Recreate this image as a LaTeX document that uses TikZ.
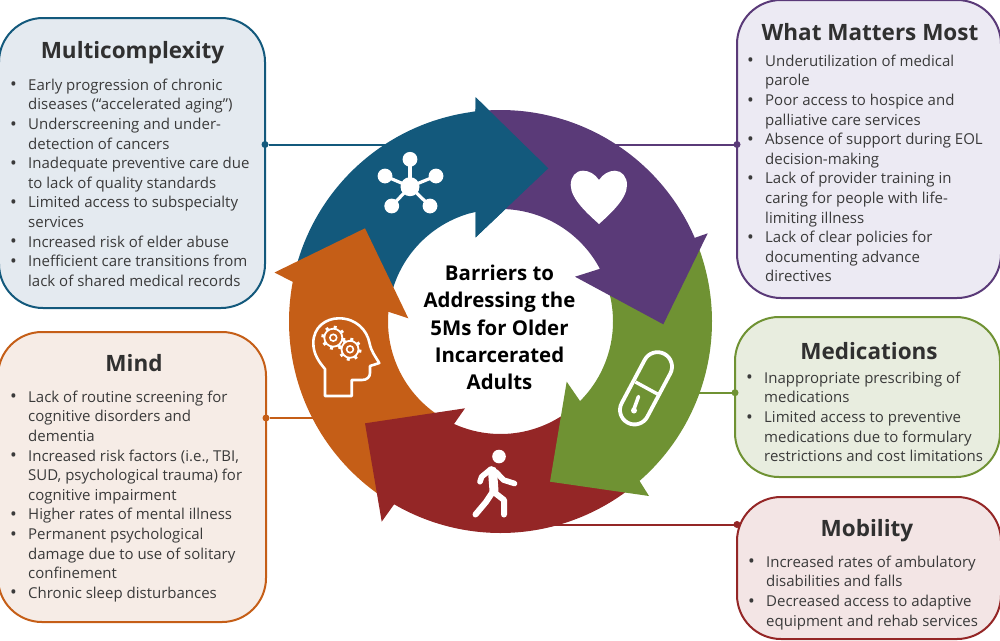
\documentclass[tikz,border=0pt]{standalone}
\usepackage{fontspec}
\setmainfont{Open Sans}
\usetikzlibrary{calc}
\definecolor{cblue}{HTML}{13597C}
\definecolor{cpurple}{HTML}{5A3A78}
\definecolor{cgreen}{HTML}{6F9233}
\definecolor{cred}{HTML}{942626}
\definecolor{corange}{HTML}{C55E17}
\definecolor{fblue}{HTML}{E4EAF0}
\definecolor{fpurple}{HTML}{ECEAF3}
\definecolor{fgreen}{HTML}{E8EDDF}
\definecolor{fred}{HTML}{F3E5E5}
\definecolor{forange}{HTML}{F6ECE6}
\definecolor{txt}{HTML}{3A3A3A}
\definecolor{ttl}{HTML}{303030}
\newcommand{\bi}{\rule{0pt}{13pt}\makebox[15pt][l]{\hspace*{-3pt}\raisebox{-0.6pt}{\fontsize{18}{18}\selectfont •}}}
\newcommand{\ct}{\rule{0pt}{13pt}\hspace*{15pt}}
% ring: angles measured clockwise on screen (y axis points down)
\newcommand{\ox}{500.5+211.5*cos(\x)}
\newcommand{\oy}{321.5+211.5*sin(\x)}
\newcommand{\ix}{500.5+112.5*cos(\x)}
\newcommand{\iy}{321.5+112.5*sin(\x)}
\tikzset{
  mbox/.style n args={2}{draw=#2,fill=#1,line width=2pt,rounded corners=44pt,inner sep=0pt,outer sep=0pt},
  mtitle/.style={anchor=base,font=\fontsize{22.5}{26}\selectfont\bfseries,text=ttl,inner sep=0pt},
  mbody/.style={anchor=north west,align=left,inner sep=0pt,text=txt,font=\fontsize{15}{19.6}\selectfont},
  mdot/.style={circle,fill=#1,inner sep=0pt,minimum size=7pt,outer sep=0pt},
  mline/.style={draw=#1,line width=2pt},
  center text/.style={align=center,font=\fontsize{20.4}{27.3}\selectfont\bfseries,text=black,inner sep=0pt},
  icon/.style={draw=white,line cap=round,line join=round},
  arc o/.style={samples=40,smooth},
  bluepath/.style={insert path={
    plot[arc o,domain=195:263.2] ({\ox},{\oy}) -- (475.7,97.3) -- (548.3,168.3) -- (475.7,237.3) -- (475.7,211.7)
    -- plot[arc o,domain=257.3:195] ({\ix},{\iy}) -- cycle}},
}
\begin{document}
\begin{tikzpicture}[x=1pt,y=-1pt]
\useasboundingbox (0,0) rectangle (1000,640);
% boxes
\node[mbox={fblue}{cblue},minimum width=266pt,minimum height=290pt] (multi) at (132,163) {};
\node[mbox={fpurple}{cpurple},minimum width=264pt,minimum height=298pt] (wmm) at (869,149) {};
\node[mbox={forange}{corange},minimum width=268pt,minimum height=290pt] (mind) at (132,477) {};
\node[mbox={fgreen}{cgreen},minimum width=265pt,minimum height=160pt] (med) at (867.5,397) {};
\node[mbox={fred}{cred},minimum width=264pt,minimum height=142pt] (mob) at (869,568) {};
% connector free ends, hidden under the ring
\coordinate (cMulti) at (400,144.5);
\coordinate (cWmm) at (600,144.5);
\coordinate (cMind) at (320,418);
\coordinate (cMed) at (690,392.7);
\coordinate (cMob) at (550,524.5);
\node[mdot=cblue] (dMulti) at (multi.east |- cMulti) {};
\node[mdot=cpurple] (dWmm) at (wmm.west |- cWmm) {};
\node[mdot=corange] (dMind) at (mind.east |- cMind) {};
\node[mdot=cgreen] (dMed) at (med.west |- cMed) {};
\node[mdot=cred] (dMob) at (mob.west |- cMob) {};
\draw[mline=cblue] (dMulti) -- (cMulti);
\draw[mline=cpurple] (dWmm) -- (cWmm);
\draw[mline=corange] (dMind) -- (cMind);
\draw[mline=cgreen] (dMed) -- (cMed);
\draw[mline=cred] (dMob) -- (cMob);
% titles
\node[mtitle] (tMulti) at (132.5,58) {Multicomplexity};
\node[mtitle] (tWmm) at (870,40) {What Matters Most};
\node[mtitle] (tMind) at (134,371.5) {Mind};
\node[mtitle] (tMed) at (869,359) {Medications};
\node[mtitle] (tMob) at (867,536.5) {Mobility};
% lists
\node[mbody] (lMulti) at (13,77) {\bi Early progression of chronic\\\ct diseases (“accelerated aging”)\\\bi Underscreening and under-\\\ct detection of cancers\\\bi Inadequate preventive care due\\\ct to lack of quality standards\\\bi Limited access to subspecialty\\\ct services\\\bi Increased risk of elder abuse\\\bi Inefficient care transitions from\\\ct lack of shared medical records};
\node[mbody] (lWmm) at (750,53) {\bi Underutilization of medical\\\ct parole\\\bi Poor access to hospice and\\\ct palliative care services\\\bi Absence of support during EOL\\\ct decision-making\\\bi Lack of provider training in\\\ct caring for people with life-\\\ct limiting illness\\\bi Lack of clear policies for\\\ct documenting advance\\\ct directives};
\node[mbody] (lMind) at (13,389) {\bi Lack of routine screening for\\\ct cognitive disorders and\\\ct dementia\\\bi Increased risk factors (i.e., TBI,\\\ct SUD, psychological trauma) for\\\ct cognitive impairment\\\bi Higher rates of mental illness\\\bi Permanent psychological\\\ct damage due to use of solitary\\\ct confinement\\\bi Chronic sleep disturbances};
\node[mbody] (lMed) at (749,370) {\bi Inappropriate prescribing of\\\ct medications\\\bi Limited access to preventive\\\ct medications due to formulary\\\ct restrictions and cost limitations};
\node[mbody] (lMob) at (751,554) {\bi Increased rates of ambulatory\\\ct disabilities and falls\\\bi Decreased access to adaptive\\\ct equipment and rehab services};
% ring arrows
\fill[cblue,bluepath];
\fill[corange] plot[arc o,domain=124:190.8] ({\ox},{\oy}) -- (274.5,272.5) -- (365,228.3) -- (408.3,318.3) -- (388.3,311.7) -- plot[arc o,domain=185.1:122] ({\ix},{\iy}) -- cycle;
\fill[cred] plot[arc o,domain=51:120.2] ({\ox},{\oy}) -- (381.7,521.7) -- (365,423.3) -- (465,408.3) -- (453.3,425) -- plot[arc o,domain=114.4:50] ({\ix},{\iy}) -- cycle;
\fill[cgreen] plot[arc o,domain=-22:48.9] ({\ox},{\oy}) -- (649,496) -- (550,481.7) -- (566.7,381.7) -- (580,401) -- plot[arc o,domain=45:-16] ({\ix},{\iy}) -- cycle;
\fill[cpurple] plot[arc o,domain=-95:-23.3] ({\ox},{\oy}) -- (707.7,233.3) -- (663.3,324.3) -- (575,276.7) -- (599.3,269) -- plot[arc o,domain=-28:-92] ({\ix},{\iy}) -- cycle;
\begin{scope}
\clip (470,90) rectangle (560,245);
\fill[cblue,bluepath];
\end{scope}
% centre text
\node[center text] (centre) at (499.5,327.5) {Barriers to\\Addressing the\\5Ms for Older\\Incarcerated\\Adults};
% network icon
\fill[white] (410,186.7) circle[radius=9.5pt];
\foreach \p in {(410,159.3),(385,176),(436,176),(391.7,206),(430,206)}{
  \fill[white] \p circle[radius=7.4pt];
  \draw[white,line width=3.2pt] (410,186.7) -- \p;
}
% heart icon
\fill[white] (599,180) .. controls (595,174) and (589,170.7) .. (583,170.7) .. controls (575.5,170.7) and (570.7,177) .. (570.7,185) .. controls (570.7,199) and (588,214) .. (599,224) .. controls (610,214) and (627,199) .. (627,185) .. controls (627,177) and (622,170.7) .. (615,170.7) .. controls (609,170.7) and (603,174) .. (599,180) -- cycle;
% pill icon
\node[draw=white,line width=3.8pt,rounded corners=14.5pt,minimum width=29pt,minimum height=78pt,inner sep=0pt,rotate=-28] (pill) at (646,388.3) {};
\draw[white,line width=3.4pt] (635.5,382) -- (657.5,394);
\draw[icon,line width=3.6pt] (638.5,396.5) -- (634,409);
\fill[white] (634,410.5) circle[radius=3pt];
% walking figure icon
\fill[white] (499,456.5) circle[radius=6.8pt];
\draw[icon,line width=9pt] (492.5,471) -- (494,491);
\draw[icon,line width=5.6pt] (491,469) -- (481.7,476.7) -- (480,481.7);
\draw[icon,line width=5.6pt] (496,472) -- (503.5,480) -- (514.5,483.5);
\draw[icon,line width=6pt] (492,493) -- (486,502) -- (475.5,514.5);
\draw[icon,line width=6pt] (495,493) -- (504,500) -- (504,514.5);
% head with gears icon
\draw[icon,line width=2.6pt]
  (325,396) -- (325,369) .. controls (319,362) and (313.3,354) .. (313.3,343)
  .. controls (313.3,327) and (326,318.3) .. (339,318.3)
  .. controls (356,318.3) and (367,330) .. (369.5,343)
  .. controls (371,351) and (375,356) .. (379.3,363) -- (370,366) -- (370,373)
  .. controls (370,377) and (367,380) .. (362,380) -- (351.7,380) -- (351.7,396) -- cycle;
\foreach \c/\r in {{(333.3,337.7)}/9,{(350,349.3)}/8.5}{
  \draw[white,line width=1.8pt] \c circle[radius=\r pt];
  \draw[white,line width=1.6pt] \c circle[radius=3.4pt];
  \foreach \a in {0,45,...,315}{
    \draw[white,line width=3pt] \c ++(\a+10:\r) -- ++(\a+10:3);
  }
}
\end{tikzpicture}
\end{document}
